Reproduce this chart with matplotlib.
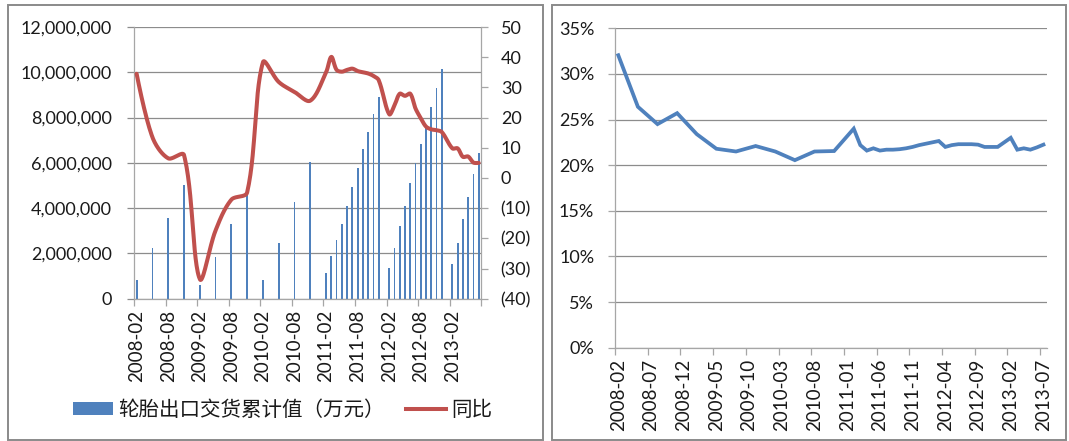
import numpy as np
import matplotlib
matplotlib.use("Agg")
import matplotlib.pyplot as plt
from matplotlib.patches import Rectangle, Patch
from matplotlib.lines import Line2D
from matplotlib.ticker import FuncFormatter, FixedLocator

plt.rcParams["font.family"] = ["Lato", "Noto Sans CJK SC", "DejaVu Sans"]

# ---- data -------------------------------------------------------------
months = [f"{y}-{m:02d}" for y in range(2008, 2014) for m in range(1, 13)]
months = months[months.index("2008-02"):months.index("2013-07") + 1]

report_months = [
    "2008-02", "2008-05", "2008-08", "2008-11",
    "2009-02", "2009-05", "2009-08", "2009-11",
    "2010-02", "2010-05", "2010-08", "2010-11",
    "2011-02", "2011-03", "2011-04", "2011-05", "2011-06", "2011-07",
    "2011-08", "2011-09", "2011-10", "2011-11", "2011-12",
    "2012-02", "2012-03", "2012-04", "2012-05", "2012-06", "2012-07",
    "2012-08", "2012-09", "2012-10", "2012-11", "2012-12",
    "2013-02", "2013-03", "2013-04", "2013-05", "2013-06", "2013-07",
]

# cumulative tyre export delivery value (10k yuan)
export_value = [
    830000, 2220000, 3550000, 5020000,
    600000, 1860000, 3300000, 4580000,
    830000, 2450000, 4260000, 6050000,
    1120000, 1890000, 2590000, 3300000, 4110000, 4920000,
    5790000, 6600000, 7350000, 8140000, 8900000,
    1340000, 2220000, 3210000, 4110000, 5100000, 5980000,
    6820000, 7630000, 8480000, 9290000, 10150000,
    1530000, 2470000, 3520000, 4510000, 5500000, 6420000,
]

# year-on-year growth (%)
yoy_growth = [
    34.5, 13.5, 6.5, 7.6,
    -33.5, -17.4, -7.2, -4.8,
    38.3, 31.8, 28.5, 25.6,
    35.0, 40.1, 35.8, 35.2, 35.8, 36.2,
    35.4, 35.0, 34.6, 33.8, 32.4,
    21.1, 24.0, 27.9, 27.2, 27.9, 23.0,
    19.8, 17.0, 16.1, 15.8, 15.2,
    9.8, 9.8, 7.0, 7.1, 5.1, 5.0,
]

# export share (%)
export_share = [
    32.05, 26.4, 24.5, 25.7,
    23.4, 21.8, 21.5, 22.1,
    21.5, 20.55, 21.5, 21.55,
    24.0, 22.2, 21.6, 21.85, 21.6, 21.7,
    21.7, 21.75, 21.85, 22.0, 22.2,
    22.5, 22.65, 22.0, 22.2, 22.3, 22.3,
    22.3, 22.25, 22.0, 22.0, 22.0,
    23.0, 21.7, 21.85, 21.7, 21.95, 22.25,
]

bar_label = "轮胎出口交货累计值（万元）"
line_label = "同比"

# ---- helpers ----------------------------------------------------------
BLUE = "#4F81BD"
RED = "#C0504D"
GRID = "#8C8C8C"
AXIS = "#A6A6A6"
TEXT = "#1A1A1A"
FS_Y = 13
FS_X = 13.5

W, H = 1069, 441


def fig_rect(x0, y0, x1, y1):
    """pixel box (top-left origin) -> figure fraction rect"""
    return [x0 / W, 1 - y1 / H, (x1 - x0) / W, (y1 - y0) / H]


def smooth(xs, ys, sx=1.0, sy=1.0, n=30):
    """Bezier smoothing through every point; tangents weighted by the
    lengths of the neighbouring segments (measured in drawing units)."""
    p = np.column_stack([np.asarray(xs, float) * sx,
                         np.asarray(ys, float) * sy])
    out = []
    t = np.linspace(0, 1, n)[:, None]
    m = len(p)
    for i in range(m - 1):
        p0 = p[i - 1] if i > 0 else p[i]
        p1, p2 = p[i], p[i + 1]
        p3 = p[i + 2] if i + 2 < m else p[i + 1]
        d01 = np.linalg.norm(p1 - p0)
        d12 = np.linalg.norm(p2 - p1)
        d23 = np.linalg.norm(p3 - p2)
        a = d12 / (d01 + d12) / 1.5 if d01 > 0 else 0.0
        b = d12 / (d12 + d23) / 1.5 if d23 > 0 else 0.0
        c1 = p1 + (p2 - p0) * a / 2.0 if d01 > 0 else p1
        c2 = p2 - (p3 - p1) * b / 2.0 if d23 > 0 else p2
        seg = ((1 - t) ** 3) * p1 + 3 * ((1 - t) ** 2) * t * c1 \
            + 3 * (1 - t) * t ** 2 * c2 + t ** 3 * p2
        out.append(seg if i == 0 else seg[1:])
    s = np.vstack(out)
    return s[:, 0] / sx, s[:, 1] / sy


xpos = np.array([months.index(m) for m in report_months])
n_cat = len(months)

fig = plt.figure(figsize=(W / 100, H / 100), dpi=100)

# panel frames
for x0, x1 in [(8, 543), (552, 1066)]:
    fig.add_artist(Rectangle((x0 / W, 1 - 440 / H), (x1 - x0) / W, 435 / H,
                             transform=fig.transFigure, fill=False,
                             ec="#8A8A8A", lw=1.4))

# ---- left panel: bars + yoy line ---------------------------------------
ax = fig.add_axes(fig_rect(134, 27, 481.3, 298.7))
ax.bar(xpos, export_value, width=0.34, color=BLUE, zorder=2)
ax.set_xlim(-0.5, n_cat - 0.5)
ax.set_ylim(0, 12_000_000)
ax.yaxis.set_major_locator(FixedLocator(np.arange(0, 12_000_001, 2_000_000)))
ax.yaxis.set_major_formatter(FuncFormatter(lambda v, _: f"{v:,.0f}"))
ax.grid(axis="y", color=GRID, lw=0.9, zorder=0)
ax.set_axisbelow(True)

ax.xaxis.set_major_locator(FixedLocator(np.arange(-0.5, n_cat, 6)))
ax.xaxis.set_major_formatter(FuncFormatter(lambda v, _: ""))
lab_idx = np.arange(0, n_cat, 6)
ax.xaxis.set_minor_locator(FixedLocator(lab_idx))
ax.set_xticklabels([months[i] for i in lab_idx], minor=True, rotation=90,
                   fontsize=FS_X, color=TEXT)
ax.tick_params(axis="x", which="major", length=5, color=AXIS, width=0.9)
ax.tick_params(axis="x", which="minor", length=0, pad=8)
ax.tick_params(axis="y", length=5, color=GRID, width=0.9, pad=11,
               labelsize=FS_Y, labelcolor=TEXT)
for side in ["top", "right"]:
    ax.spines[side].set_visible(False)
for side in ["left", "bottom"]:
    ax.spines[side].set_color(AXIS)
    ax.spines[side].set_linewidth(0.9)

ax2 = ax.twinx()
# drawing units: 5.26 px per month, 3 px per percentage point
sx, sy = smooth(xpos, yoy_growth, sx=5.26, sy=3.0)
ax2.plot(sx, sy, color=RED, lw=2.9, solid_capstyle="round", zorder=3)
ax2.set_ylim(-40, 50)
ax2.yaxis.set_major_locator(FixedLocator(np.arange(-40, 51, 10)))
ax2.yaxis.set_major_formatter(
    FuncFormatter(lambda v, _: f"({abs(v):.0f})" if v < 0 else f"{v:.0f}"))
ax2.tick_params(axis="y", length=5, color=AXIS, width=0.9, pad=9,
                labelsize=FS_Y, labelcolor=TEXT)
for side in ["top", "left", "bottom"]:
    ax2.spines[side].set_visible(False)
ax2.spines["right"].set_color(AXIS)
ax2.spines["right"].set_linewidth(0.9)

handles = [Patch(facecolor=BLUE, edgecolor="none"),
           Line2D([], [], color=RED, lw=2.9)]
fig.legend(handles, [bar_label, line_label], loc="center left",
           bbox_to_anchor=(73 / W, 1 - 410 / H), ncol=2, frameon=False,
           prop={"family": ["Noto Sans CJK SC"], "size": 14.8},
           handlelength=1.95, handleheight=0.58, handletextpad=0.27,
           columnspacing=1.0, borderpad=0, borderaxespad=0,
           labelcolor=TEXT)

# ---- right panel: export share -----------------------------------------
bx = fig.add_axes(fig_rect(615, 28.3, 1046.7, 347.7))
bx.plot(xpos, export_share, color=BLUE, lw=2.7, solid_joinstyle="miter",
        zorder=3)
bx.set_xlim(-0.5, n_cat - 0.5)
bx.set_ylim(0, 35)
bx.yaxis.set_major_locator(FixedLocator(np.arange(0, 36, 5)))
bx.yaxis.set_major_formatter(FuncFormatter(lambda v, _: f"{v:.0f}%"))
bx.grid(axis="y", color=GRID, lw=0.9, zorder=0)
bx.set_axisbelow(True)
bx.xaxis.set_major_locator(FixedLocator(np.arange(-0.5, n_cat - 1, 5)))
bx.xaxis.set_major_formatter(FuncFormatter(lambda v, _: ""))
lab2 = np.arange(0, n_cat, 5)
bx.xaxis.set_minor_locator(FixedLocator(lab2))
bx.set_xticklabels([months[i] for i in lab2], minor=True, rotation=90,
                   fontsize=FS_X, color=TEXT)
bx.tick_params(axis="x", which="major", length=5, color=AXIS, width=0.9)
bx.tick_params(axis="x", which="minor", length=0, pad=8)
bx.tick_params(axis="y", length=5, color=AXIS, width=0.9, pad=10,
               labelsize=FS_Y, labelcolor=TEXT)
for side in ["top", "right"]:
    bx.spines[side].set_visible(False)
for side in ["left", "bottom"]:
    bx.spines[side].set_color(AXIS)
    bx.spines[side].set_linewidth(0.9)

fig.savefig("out.png", dpi=100)
